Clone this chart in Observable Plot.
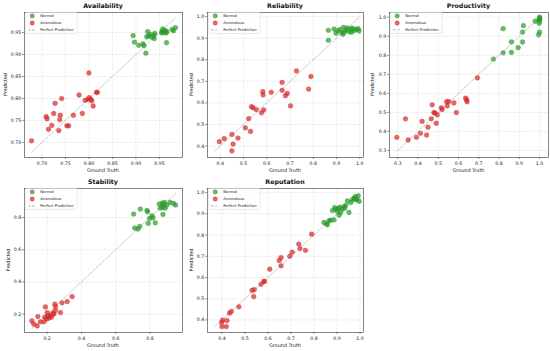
<!DOCTYPE html>
<html><head><meta charset="utf-8">
<script src="https://cdn.jsdelivr.net/npm/d3@7"></script>
<script src="https://cdn.jsdelivr.net/npm/@observablehq/plot@0.6"></script>
<style>
body{margin:0;background:#fff;}
#wrap{position:relative;width:550px;height:351px;overflow:hidden;font-family:"DejaVu Sans",sans-serif;background:#fff;}
#wrap svg{position:absolute;}
</style></head><body><div id="wrap"></div>
<script>
// ---- data (ground truth / predicted) ----
const availNormalTrue = [0.894,0.897,0.906,0.915,0.917,0.921,0.925,0.927,0.930,0.934,0.938,0.939,0.940,0.923,0.955,0.957,0.959,0.962,0.964,0.966,0.955,0.965,0.977,0.984,0.980];
const availNormalPred = [0.943,0.928,0.921,0.924,0.920,0.903,0.952,0.942,0.946,0.939,0.944,0.936,0.948,0.940,0.952,0.958,0.950,0.955,0.949,0.952,0.949,0.927,0.957,0.961,0.954];
const availAnomTrue = [0.678,0.709,0.711,0.714,0.721,0.725,0.728,0.736,0.738,0.739,0.742,0.753,0.757,0.767,0.779,0.786,0.792,0.798,0.800,0.801,0.804,0.806,0.809,0.816,0.818];
const availAnomPred = [0.704,0.759,0.754,0.730,0.739,0.766,0.789,0.727,0.752,0.762,0.800,0.738,0.738,0.762,0.808,0.766,0.796,0.798,0.858,0.802,0.798,0.795,0.783,0.814,0.814];

const relNormalTrue = [0.865,0.865,0.889,0.898,0.904,0.915,0.922,0.928,0.930,0.935,0.941,0.947,0.954,0.961,0.964,0.968,0.976,0.983,0.993,0.997];
const relNormalPred = [0.936,0.890,0.942,0.922,0.935,0.939,0.925,0.918,0.950,0.929,0.938,0.947,0.930,0.941,0.927,0.946,0.935,0.941,0.944,0.933];
const relAnomTrue = [0.396,0.417,0.450,0.455,0.450,0.476,0.508,0.522,0.530,0.534,0.541,0.555,0.577,0.583,0.584,0.587,0.619,0.666,0.666,0.680,0.688,0.702,0.728,0.780,0.790];
const relAnomPred = [0.420,0.434,0.454,0.409,0.378,0.437,0.484,0.527,0.468,0.583,0.577,0.569,0.554,0.652,0.637,0.567,0.649,0.695,0.658,0.633,0.644,0.586,0.748,0.664,0.722];

const prodNormalTrue = [0.772,0.820,0.820,0.861,0.861,0.894,0.916,0.916,0.920,0.978,0.995,1.000,0.998,1.000,1.000,0.998,1.000,0.999];
const prodNormalPred = [0.780,0.940,0.813,0.871,0.815,0.840,0.870,0.922,0.956,0.979,0.908,0.922,0.968,0.995,0.986,0.982,1.000,0.990];
const prodAnomTrue = [0.295,0.338,0.351,0.392,0.412,0.420,0.442,0.449,0.465,0.470,0.478,0.483,0.490,0.495,0.515,0.519,0.541,0.544,0.552,0.577,0.589,0.635,0.640,0.642,0.693];
const prodAnomPred = [0.369,0.466,0.355,0.369,0.390,0.453,0.381,0.422,0.466,0.540,0.499,0.497,0.443,0.487,0.524,0.515,0.556,0.534,0.557,0.550,0.499,0.575,0.566,0.556,0.681];

const stabNormalTrue = [0.705,0.711,0.730,0.744,0.740,0.783,0.786,0.790,0.798,0.812,0.818,0.831,0.854,0.860,0.870,0.874,0.880,0.876,0.885,0.889,0.899,0.918,0.938,0.950];
const stabNormalPred = [0.821,0.734,0.728,0.852,0.744,0.844,0.835,0.763,0.794,0.810,0.798,0.767,0.883,0.858,0.889,0.862,0.879,0.819,0.893,0.858,0.877,0.893,0.887,0.877];
const stabAnomTrue = [0.111,0.122,0.142,0.146,0.161,0.181,0.186,0.190,0.196,0.204,0.210,0.219,0.225,0.235,0.239,0.245,0.249,0.249,0.278,0.287,0.317,0.346,0.200];
const stabAnomPred = [0.158,0.138,0.127,0.185,0.152,0.152,0.181,0.245,0.169,0.189,0.175,0.193,0.181,0.208,0.200,0.262,0.222,0.247,0.210,0.270,0.278,0.309,0.210];

const repNormalTrue = [0.843,0.854,0.858,0.865,0.872,0.880,0.887,0.890,0.894,0.902,0.904,0.909,0.913,0.916,0.922,0.931,0.933,0.938,0.945,0.952,0.960,0.967,0.974,0.979,0.981,0.992,0.996,0.986];
const repNormalPred = [0.859,0.854,0.848,0.867,0.870,0.915,0.871,0.929,0.921,0.911,0.925,0.893,0.931,0.906,0.922,0.934,0.925,0.940,0.961,0.906,0.953,0.966,0.973,0.981,0.969,0.984,0.959,0.966];
const repAnomTrue = [0.399,0.400,0.403,0.419,0.422,0.433,0.441,0.474,0.531,0.538,0.541,0.570,0.582,0.585,0.608,0.649,0.657,0.657,0.695,0.705,0.734,0.739,0.763,0.790];
const repAnomPred = [0.388,0.369,0.399,0.369,0.397,0.432,0.440,0.462,0.539,0.510,0.543,0.568,0.581,0.582,0.639,0.680,0.694,0.655,0.700,0.719,0.757,0.736,0.728,0.804];

const titles = ["Availability","Reliability","Productivity","Stability","Reputation"];
const ticks2 = [0.70,0.75,0.80,0.85,0.90,0.95];
const ticks1 = [0.3,0.4,0.5,0.6,0.7,0.8,0.9,1.0];
const ticks4 = [0.2,0.4,0.6,0.8];
const legendLabels = ["Normal","Anomalous","Perfect Prediction"];

const GREEN = "#2a9a2a", RED = "#d62728";

const panels = [
  {title:titles[0], nT:availNormalTrue, nP:availNormalPred, aT:availAnomTrue, aP:availAnomPred,
   left:0, top:0, width:183, height:175, mL:24, mR:1, mT:12, mB:18,
   xd:[0.663,0.999], yd:[0.666,0.9955], ticks:ticks2, fmt:".2f", ylab:19},
  {title:titles[1], nT:relNormalTrue, nP:relNormalPred, aT:relAnomTrue, aP:relAnomPred,
   left:183, top:0, width:183, height:175, mL:24, mR:3, mT:12, mB:18,
   xd:[0.345,1.016], yd:[0.347,1.0187], ticks:ticks1.filter(d=>d>=0.4), fmt:".1f", ylab:16},
  {title:titles[2], nT:prodNormalTrue, nP:prodNormalPred, aT:prodAnomTrue, aP:prodAnomPred,
   left:366, top:0, width:184, height:175, mL:23, mR:2, mT:12, mB:18,
   xd:[0.259,1.044], yd:[0.263,1.025], ticks:ticks1, fmt:".1f", ylab:17},
  {title:titles[3], nT:stabNormalTrue, nP:stabNormalPred, aT:stabAnomTrue, aP:stabAnomPred,
   left:0, top:175, width:183, height:176, mL:24, mR:1, mT:13, mB:19,
   xd:[0.068,0.990], yd:[0.086,0.98], ticks:ticks4, fmt:".1f", ylab:16},
  {title:titles[4], nT:repNormalTrue, nP:repNormalPred, aT:repAnomTrue, aP:repAnomPred,
   left:183, top:175, width:183, height:176, mL:24, mR:3, mT:13, mB:19,
   xd:[0.3375,1.015], yd:[0.341,1.019], ticks:ticks1.filter(d=>d>=0.4), fmt:".1f", ylab:16}
];

const wrap = document.getElementById("wrap");

for (const p of panels) {
  const normal = p.nT.map((t,i)=>({t, p:p.nP[i]}));
  const anom = p.aT.map((t,i)=>({t, p:p.aP[i]}));
  const all = [...p.nT,...p.nP,...p.aT,...p.aP];
  const lo = d3.min(all), hi = d3.max(all);
  const diag = [{v:lo},{v:hi}];
  const svg = Plot.plot({
    width:p.width, height:p.height,
    marginLeft:p.mL, marginRight:p.mR, marginTop:p.mT, marginBottom:p.mB,
    x:{domain:p.xd}, y:{domain:p.yd},
    style:{fontSize:"4.7px", fontFamily:"DejaVu Sans, sans-serif", color:"#222", background:"transparent", overflow:"visible"},
    marks:[
      Plot.gridX(p.ticks,{stroke:"#b0b0b0", strokeOpacity:0.55, strokeWidth:0.5, strokeDasharray:"1.5,1"}),
      Plot.gridY(p.ticks,{stroke:"#b0b0b0", strokeOpacity:0.55, strokeWidth:0.5, strokeDasharray:"1.5,1"}),
      Plot.line(diag,{x:"v", y:"v", stroke:"#888", strokeOpacity:0.8, strokeWidth:0.6, strokeDasharray:"2.5,1.5"}),
      Plot.dot(normal,{x:"t", y:"p", r:2.4, fill:GREEN, fillOpacity:0.7, stroke:GREEN, strokeOpacity:0.8, strokeWidth:0.4}),
      Plot.dot(anom,{x:"t", y:"p", r:2.4, fill:RED, fillOpacity:0.7, stroke:RED, strokeOpacity:0.8, strokeWidth:0.4}),
      Plot.frame({stroke:"#333", strokeWidth:0.6}),
      Plot.axisX(p.ticks,{tickSize:2, tickPadding:2, tickFormat:d3.format(p.fmt), label:null, fontSize:4.7, stroke:"#333", strokeWidth:0.5}),
      Plot.axisY(p.ticks,{tickSize:2, tickPadding:1.3, tickFormat:d3.format(p.fmt), label:null, fontSize:4.7, stroke:"#333", strokeWidth:0.5})
    ]
  });
  svg.style.position = "absolute";
  svg.style.left = p.left + "px";
  svg.style.top = p.top + "px";
  const s = d3.select(svg);
  const fx0 = p.mL, fx1 = p.width - p.mR, fy0 = p.mT, fy1 = p.height - p.mB;
  const cx = (fx0 + fx1) / 2, cy = (fy0 + fy1) / 2;
  // title
  s.append("text").attr("x", cx).attr("y", fy0 - 4).attr("text-anchor","middle")
    .attr("font-size", 6.3).attr("font-weight","bold").attr("fill","#111").text(p.title);
  // x label
  s.append("text").attr("x", cx).attr("y", fy1 + 15).attr("text-anchor","middle")
    .attr("font-size", 4.9).attr("fill","#222").text("Ground Truth");
  // y label
  s.append("text").attr("transform", `translate(${fx0 - p.ylab},${cy}) rotate(-90)`)
    .attr("text-anchor","middle").attr("dy","0.35em")
    .attr("font-size", 4.9).attr("fill","#222").text("Predicted");
  // legend
  const lg = s.append("g").attr("transform", `translate(${fx0 + 1.2},${fy0 + 0.4})`);
  lg.append("rect").attr("width", 52).attr("height", 21).attr("rx", 1)
    .attr("fill","#fff").attr("fill-opacity",0.85).attr("stroke","#d0d0d0").attr("stroke-width",0.5);
  const rows = [3.5, 10.6, 17.4];
  lg.append("circle").attr("cx",7).attr("cy",rows[0]).attr("r",2.2)
    .attr("fill",GREEN).attr("fill-opacity",0.7).attr("stroke",GREEN).attr("stroke-width",0.4);
  lg.append("circle").attr("cx",7).attr("cy",rows[1]).attr("r",2.2)
    .attr("fill",RED).attr("fill-opacity",0.7).attr("stroke",RED).attr("stroke-width",0.4);
  lg.append("line").attr("x1",3).attr("x2",11).attr("y1",rows[2]).attr("y2",rows[2])
    .attr("stroke","#888").attr("stroke-width",0.6).attr("stroke-dasharray","2.5,1.5");
  legendLabels.forEach((t,i)=>{
    lg.append("text").attr("x",15).attr("y",rows[i]).attr("dy","0.35em")
      .attr("text-anchor","start")
      .attr("font-size",3.8).attr("fill","#222").text(t);
  });
  wrap.appendChild(svg);
}
</script></body></html>
